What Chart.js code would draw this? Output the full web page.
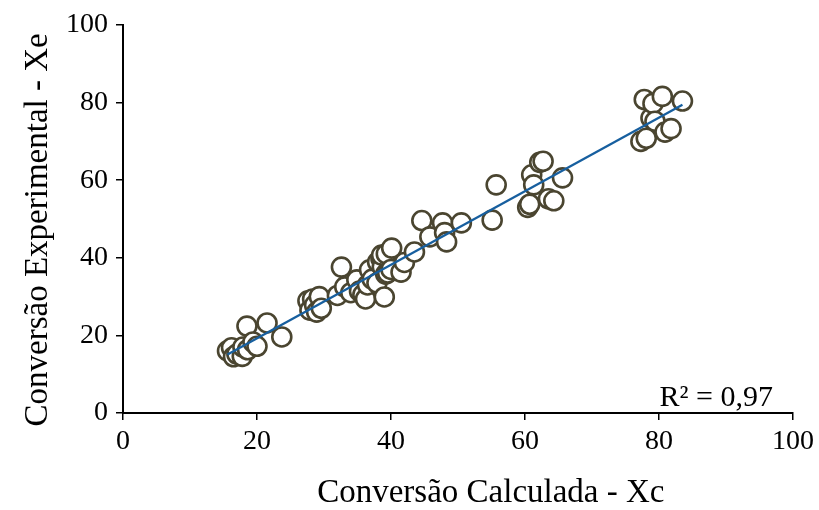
<!DOCTYPE html>
<html>
<head>
<meta charset="utf-8">
<script src="https://cdn.jsdelivr.net/npm/chart.js@4/dist/chart.umd.min.js"></script>
<style>
  html, body { margin: 0; padding: 0; background: #ffffff; }
  #wrap { width: 819px; height: 510px; }
</style>
</head>
<body>
<div id="wrap"><canvas id="chart" width="819" height="510"></canvas></div>
<script>
// Calculated conversion (Xc) and the matching experimental conversion (Xe)
const calculated = [
  15.6, 16.2, 16.5, 17.0, 17.8, 17.9, 18.5, 18.6, 19.4, 20.0, 21.5, 23.7,
  27.6, 27.9, 28.3, 28.6, 28.9, 29.3, 29.6, 32.0, 32.6, 33.1, 34.0, 34.9,
  35.3, 35.8, 36.2, 36.5, 36.8, 37.2, 37.9, 38.0, 38.5, 38.7, 39.0, 39.2,
  39.5, 38.6, 39.3, 40.1, 40.0, 41.5, 42.0, 43.5, 44.6, 45.8, 47.7, 48.0,
  48.3, 50.5, 55.1, 55.7, 60.4, 60.7, 61.0, 61.3, 62.2, 62.7, 63.5, 64.3,
  65.6, 77.3, 77.8, 78.1, 78.8, 79.1, 79.4, 80.5, 80.9, 81.8, 83.5
];
const experimental = [
  16.0, 16.8, 14.5, 15.2, 14.6, 17.0, 22.4, 16.3, 18.3, 17.2, 23.2, 19.6,
  28.9, 26.5, 29.4, 27.8, 26.0, 30.0, 27.0, 30.3, 37.6, 32.5, 31.0, 34.3,
  31.4, 30.5, 29.4, 33.0, 36.9, 34.5, 33.5, 38.9, 39.8, 37.6, 29.9, 35.8,
  36.1, 40.7, 41.0, 42.5, 37.0, 36.3, 38.8, 41.5, 49.6, 45.4, 49.0, 46.5,
  44.1, 49.0, 49.7, 58.8, 53.0, 53.8, 61.4, 58.8, 64.6, 64.9, 55.2, 54.7,
  60.6, 70.0, 80.8, 70.8, 76.0, 79.8, 75.2, 81.6, 72.4, 73.3, 80.4
];
const axisTicks = [0, 20, 40, 60, 80, 100];
const xTitle = 'Conversão Calculada - Xc';
const yTitle = 'Conversão Experimental - Xe';
const rSquaredLabel = 'R² = 0,97';

const points = calculated.map((x, i) => ({ x, y: experimental[i] }));

// Least-squares trend line through the measured pairs
const n = calculated.length;
const mx = calculated.reduce((a, b) => a + b, 0) / n;
const my = experimental.reduce((a, b) => a + b, 0) / n;
let sxy = 0, sxx = 0;
for (let i = 0; i < n; i++) {
  sxy += (calculated[i] - mx) * (experimental[i] - my);
  sxx += (calculated[i] - mx) ** 2;
}
const slope = sxy / sxx;
const intercept = my - slope * mx;
const xMin = Math.min(...calculated);
const xMax = Math.max(...calculated);
const trend = [
  { x: xMin, y: intercept + slope * xMin },
  { x: xMax, y: intercept + slope * xMax }
];

const FONT = '"Liberation Serif", "Times New Roman", serif';

// Axis titles and the R² note, placed relative to the plot area
const labelsPlugin = {
  id: 'labels',
  afterDraw(chart) {
    const { ctx, chartArea } = chart;
    ctx.save();
    ctx.fillStyle = '#000';
    ctx.textBaseline = 'middle';
    ctx.textAlign = 'center';
    ctx.font = '33px ' + FONT;
    ctx.fillText(xTitle, chartArea.left + chartArea.width * 0.549, chart.height - 17);
    ctx.translate(38, chartArea.top + chartArea.height * 0.528);
    ctx.rotate(-Math.PI / 2);
    ctx.fillText(yTitle, 0, 0);
    ctx.restore();

    ctx.save();
    ctx.font = '30px ' + FONT;
    ctx.fillStyle = '#000';
    ctx.textAlign = 'right';
    ctx.textBaseline = 'alphabetic';
    ctx.fillText(rSquaredLabel, chartArea.right - 20, chartArea.bottom - 7);
    ctx.restore();
  }
};

new Chart(document.getElementById('chart'), {
  type: 'scatter',
  data: {
    datasets: [
      {
        type: 'line',
        data: trend,
        borderColor: '#175f9f',
        borderWidth: 2.3,
        pointRadius: 0,
        fill: false,
        order: 0
      },
      {
        data: points,
        backgroundColor: '#ffffff',
        borderColor: '#4a4530',
        borderWidth: 2.6,
        pointRadius: 9.5,
        order: 1
      }
    ]
  },
  options: {
    responsive: false,
    animation: false,
    layout: { padding: { top: 25, right: 24, left: 0, bottom: 0 } },
    plugins: { legend: { display: false }, tooltip: { enabled: false } },
    scales: {
      x: {
        type: 'linear',
        min: 0, max: 100,
        afterBuildTicks(scale) { scale.ticks = axisTicks.map(v => ({ value: v })); },
        afterFit(scale) { scale.height = 97; },
        grid: { drawOnChartArea: false, drawTicks: true, tickLength: 7, color: '#000', lineWidth: 1.5 },
        border: { color: '#000', width: 2 },
        ticks: { color: '#000', font: { family: FONT, size: 28 }, padding: 5, maxRotation: 0 },
        title: { display: false }
      },
      y: {
        type: 'linear',
        min: 0, max: 100,
        afterBuildTicks(scale) { scale.ticks = axisTicks.map(v => ({ value: v })); },
        afterFit(scale) { scale.width = 123; },
        grid: { drawOnChartArea: false, drawTicks: true, tickLength: 7, color: '#000', lineWidth: 1.5 },
        border: { color: '#000', width: 2 },
        ticks: { color: '#000', font: { family: FONT, size: 28 }, padding: 8 },
        title: { display: false }
      }
    }
  },
  plugins: [labelsPlugin]
});
</script>
</body>
</html>
